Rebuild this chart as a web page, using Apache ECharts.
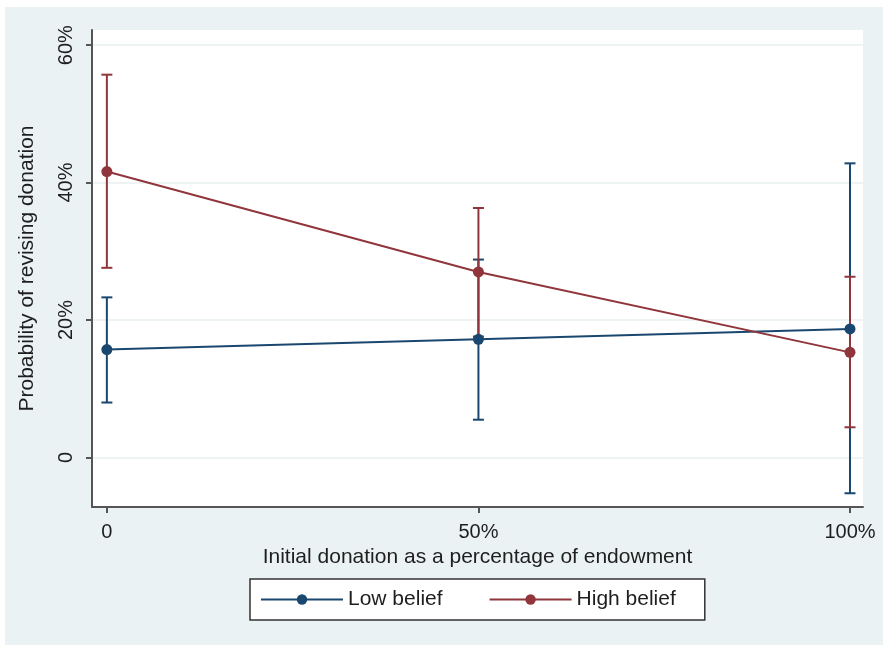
<!DOCTYPE html>
<html>
<head>
<meta charset="utf-8">
<script src="https://cdn.jsdelivr.net/npm/echarts@6/dist/echarts.min.js"></script>
<style>
  html, body { margin: 0; padding: 0; background: #ffffff; }
  #wrap { position: absolute; left: 5px; top: 7px; width: 878px; height: 638px; background: #eaf2f3; }
  #chart { width: 878px; height: 638px; }
</style>
</head>
<body>
<div id="wrap"><div id="chart"></div></div>
<script>
// Data (percent)
const xValues = [0, 50, 100];
const xTickLabels = ['0', '50%', '100%'];
const yTickValues = [0, 20, 40, 60];
const yTickLabels = ['0', '20%', '40%', '60%'];

const lowMean = [15.7, 17.2, 18.7];
const lowLower = [8.0, 5.5, -5.2];
const lowUpper = [23.3, 28.8, 42.8];

const highMean = [41.6, 27.0, 15.3];
const highLower = [27.6, 17.6, 4.4];
const highUpper = [55.7, 36.3, 26.3];

const seriesNames = ['Low belief', 'High belief'];
const xTitle = 'Initial donation as a percentage of endowment';
const yTitle = 'Probability of revising donation';

const BLUE = '#1a476f';
const RED = '#90353b';
const FONT = '"Liberation Sans", Arial, sans-serif';
const TXT = '#1e1e1e';

function ciData(lo, hi) {
  return xValues.map((x, i) => [x, lo[i], hi[i]]);
}
function ciSeries(lo, hi, color) {
  return {
    type: 'custom',
    silent: true,
    data: ciData(lo, hi),
    encode: { x: 0, y: [1, 2] },
    renderItem: function (params, api) {
      const x = api.value(0);
      const p1 = api.coord([x, api.value(2)]);
      const p2 = api.coord([x, api.value(1)]);
      const w = 5.5;
      const st = { stroke: color, lineWidth: 2 };
      return {
        type: 'group',
        children: [
          { type: 'line', shape: { x1: p1[0], y1: p1[1], x2: p2[0], y2: p2[1] }, style: st },
          { type: 'line', shape: { x1: p1[0] - w, y1: p1[1], x2: p1[0] + w, y2: p1[1] }, style: st },
          { type: 'line', shape: { x1: p2[0] - w, y1: p2[1], x2: p2[0] + w, y2: p2[1] }, style: st }
        ]
      };
    }
  };
}
function lineSeries(name, vals, color) {
  return {
    name: name,
    type: 'line',
    data: xValues.map((x, i) => [x, vals[i]]),
    symbol: 'circle',
    symbolSize: 11,
    showSymbol: true,
    lineStyle: { color: color, width: 2 },
    itemStyle: { color: color },
    emphasis: { disabled: true }
  };
}

const chart = echarts.init(document.getElementById('chart'), null, { renderer: 'canvas' });
chart.setOption({
  animation: false,
  backgroundColor: 'transparent',
  textStyle: { fontFamily: FONT },
  grid: { left: 87, top: 23, right: 20, bottom: 138, show: true, backgroundColor: '#ffffff', borderWidth: 0, containLabel: false },
  xAxis: {
    type: 'value',
    min: -2.0,
    max: 101.75,
    name: xTitle,
    nameLocation: 'middle',
    nameGap: 37,
    nameTextStyle: { fontSize: 21, color: TXT, fontFamily: FONT },
    axisLine: { show: true, onZero: false, lineStyle: { color: '#555555', width: 2 } },
    axisTick: { show: true, length: 6, customValues: xValues, lineStyle: { color: '#555555', width: 2 } },
    axisLabel: {
      customValues: xValues, margin: 15, fontSize: 20, color: TXT, fontFamily: FONT,
      formatter: v => xTickLabels[xValues.indexOf(v)]
    },
    splitLine: { show: false }
  },
  yAxis: {
    type: 'value',
    min: -7.2,
    max: 62.2,
    name: yTitle,
    nameLocation: 'middle',
    nameGap: 54,
    nameRotate: 90,
    nameTextStyle: { fontSize: 21, color: TXT, fontFamily: FONT },
    axisLine: { show: true, onZero: false, lineStyle: { color: '#555555', width: 2 } },
    axisTick: { show: true, length: 6, customValues: yTickValues, lineStyle: { color: '#555555', width: 2 } },
    axisLabel: {
      customValues: yTickValues, rotate: 90, margin: 16, fontSize: 20, color: TXT, fontFamily: FONT,
      formatter: v => yTickLabels[yTickValues.indexOf(v)]
    },
    splitLine: { show: true, lineStyle: { color: '#e8eff1', width: 1.5 } }
  },
  legend: {
    data: seriesNames,
    left: 245,
    top: 572,
    orient: 'horizontal',
    backgroundColor: '#ffffff',
    borderColor: '#333333',
    borderWidth: 1.5,
    borderRadius: 0,
    padding: [10, 29, 10, 10],
    itemGap: 46,
    itemWidth: 82,
    itemHeight: 13,
    textStyle: { fontSize: 21, color: TXT, fontFamily: FONT, padding: [0, 0, 0, 0] },
    selectedMode: false
  },
  series: [
    ciSeries(lowLower, lowUpper, BLUE),
    ciSeries(highLower, highUpper, RED),
    lineSeries(seriesNames[0], lowMean, BLUE),
    lineSeries(seriesNames[1], highMean, RED)
  ]
});
</script>
</body>
</html>
